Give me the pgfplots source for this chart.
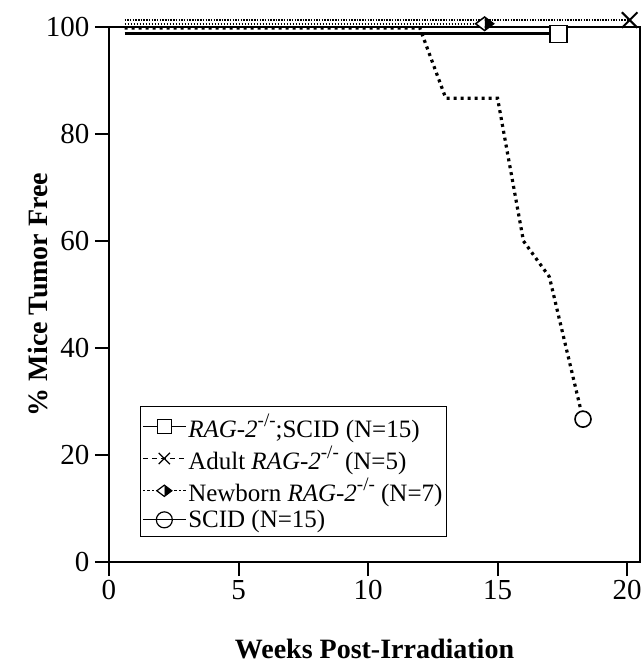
\documentclass[border=0pt]{standalone}
\usepackage{fontspec}
\setmainfont{Liberation Serif}
\usepackage{pgfplots}
\pgfplotsset{compat=1.18}
\usetikzlibrary{plotmarks,calc}
\newcommand{\ko}{\raisebox{0.45em}{\fontsize{19}{20}\selectfont -/-}}
\begin{document}
\begin{tikzpicture}
\begin{axis}[
  name=ax,
  scale only axis,
  width=531pt, height=535pt,
  xmin=0, xmax=20.5, ymin=0, ymax=100,
  clip=false,
  axis line style={line width=2pt},
  xtick={0,5,10,15,20}, ytick={0,20,40,60,80,100},
  xtick pos=left, ytick pos=left,
  tick align=outside,
  major tick length=14pt,
  tick style={line width=2pt, black},
  /pgf/number format/assume math mode=true,
  tick label style={font=\fontsize{29}{31}\selectfont},
  xticklabel style={yshift=-1pt},
  yticklabel style={xshift=-2pt},
  xlabel={\textbf{Weeks Post-Irradiation}},
  ylabel={\textbf{\% Mice Tumor Free}},
  label style={font=\fontsize{28}{30}\selectfont},
  xlabel style={at={(rel axis cs:0.5,0)}, anchor=base, yshift=-96pt},
  ylabel style={at={(rel axis cs:0,0.5)}, anchor=center, yshift=71pt},
  legend style={at={(rel axis cs:0.058,0.047)}, anchor=south west,
    font=\fontsize{25}{28}\selectfont, draw=black, line width=1.2pt,
    row sep=3pt, inner xsep=2pt, inner ysep=5pt, cells={anchor=west}},
  legend image code/.code={%
    \draw[mark repeat=2, mark phase=2, #1] plot coordinates {(0cm,0cm) (0.75cm,0cm) (1.5cm,0cm)};
  },
]
% Adult RAG-2 (top dashed)
\addplot[forget plot, black, line width=1.8pt, dash pattern=on 1.5pt off 1.2pt,
  mark=x, mark indices={2}, mark size=11pt, mark options={solid, line width=2pt}]
  coordinates {(0.6,101.3) (20.1,101.3)};
% Newborn RAG-2 (dotted)
\addplot[forget plot, black, line width=1.8pt, dash pattern=on 1.5pt off 1.5pt,
  mark=halfdiamond*, mark indices={2}, mark size=9pt,
  mark options={solid, rotate=90, line width=1.5pt, fill=black}]
  coordinates {(0.6,100.6) (14.5,100.6)};
% RAG-2;SCID (solid thick)
\addplot[forget plot, black, line width=3pt,
  mark=square*, mark indices={2}, mark size=8.5pt,
  mark options={solid, line width=1.6pt, fill=white}]
  coordinates {(0.6,98.7) (17.35,98.7)};
% SCID (thick dotted)
\addplot[forget plot, black, line width=3.2pt, dash pattern=on 3pt off 4pt,
  mark=*, mark indices={7}, mark size=8pt,
  mark options={solid, line width=1.6pt, fill=white}]
  coordinates {(0.6,99.8) (12,99.8) (13,86.7) (15,86.7) (16,60) (17,53.3) (18.3,26.7)};
% legend entries
\addlegendimage{black, line width=1.2pt, mark=square*, mark size=7pt, mark options={fill=white, line width=1.2pt}}
\addlegendentry{\textit{RAG-2}\ko;SCID (N=15)}
\addlegendimage{black, line width=1.2pt, dash pattern=on 5pt off 4pt, mark=x, mark size=8pt, mark options={solid, line width=1.2pt}}
\addlegendentry{Adult \textit{RAG-2}\ko\ (N=5)}
\addlegendimage{black, line width=1.2pt, dash pattern=on 2.5pt off 2pt, mark=halfdiamond*, mark size=7.5pt, mark options={solid, rotate=90, fill=black, line width=1.2pt}}
\addlegendentry{Newborn \textit{RAG-2}\ko\ (N=7)}
\addlegendimage{black, line width=1.2pt, mark=o, mark size=8pt, mark options={line width=1.2pt}}
\addlegendentry{SCID (N=15)}
\coordinate (bl) at (rel axis cs:0,0);
\end{axis}
\pgfresetboundingbox
\path ($(bl)+(-109pt,-102pt)$) rectangle ++(642pt,664pt);
\end{tikzpicture}
\end{document}
